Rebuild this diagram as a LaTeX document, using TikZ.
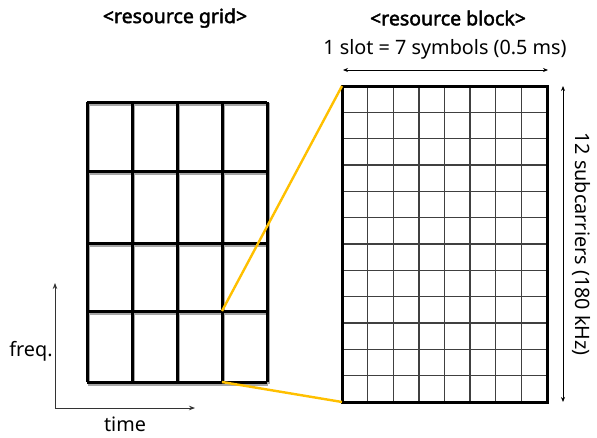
\documentclass[tikz,border=0pt]{standalone}
\usepackage{fontspec}
\setmainfont{Noto Sans}
\newfontfamily\ttlfont{Noto Sans}[FakeBold=2.2]
\usetikzlibrary{arrows.meta}
\definecolor{gold}{HTML}{FFC000}
\tikzset{
  gridline/.style={line width=3pt,black},
  gridshadow/.style={line width=3pt,black!35},
  blockline/.style={line width=1.4pt,black!75},
  blockframe/.style={line width=3pt,black},
  zoomline/.style={line width=2.4pt,gold},
  dimarrow/.style={line width=0.8pt,black,{Stealth[length=5pt,width=4pt]}-{Stealth[length=5pt,width=4pt]}},
  axisarrow/.style={line width=0.8pt,black!80,-{Stealth[length=6pt,width=4.5pt]}},
  lbl/.style={inner sep=0pt,font=\fontsize{19.8}{22}\selectfont},
  ttl/.style={inner sep=0pt,font=\fontsize{19.5}{22}\ttlfont}
}
\begin{document}
\begin{tikzpicture}[x=1pt,y=-1pt]
\useasboundingbox (0,0) rectangle (597,437);
% titles
\node[ttl] (t1) at (175,18) {<resource grid>};
\node[ttl] (t2) at (448,18) {<resource block>};
% resource grid (4x4)
\foreach \x in {87,132,177,222,267} \draw[gridshadow] (\x+1,103) -- (\x+1,384);
\foreach \y in {102,171,243,311,382} \draw[gridshadow] (88,\y+2) -- (268,\y+2);
\foreach \x in {87,132,177,222,267} \draw[gridline] (\x,102) -- (\x,382);
\foreach \y in {102,171,243,311,382} \draw[gridline] (87,\y) -- (267,\y);
% resource block (8 x 12)
\foreach \i in {1,...,7} \draw[blockline] ({342+\i*205/8},86) -- ({342+\i*205/8},402);
\foreach \j in {1,...,11} \draw[blockline] (342,{86+\j*316/12}) -- (547,{86+\j*316/12});
\draw[blockframe] (342,86) rectangle (547,402);
% zoom connectors
\coordinate (gA) at (222,311);
\coordinate (gB) at (222,382);
\coordinate (bA) at (342,86);
\coordinate (bB) at (342,402);
\draw[zoomline] (gA) -- (bA);
\draw[zoomline] (gB) -- (bB);
% slot dimension
\coordinate (sL) at (343,70);
\coordinate (sR) at (548,70);
\draw[dimarrow] (sL) -- (sR);
\node[lbl] (slot) at (445,49) {1 slot = 7 symbols (0.5 ms)};
% subcarrier dimension
\coordinate (cT) at (563,86);
\coordinate (cB) at (563,402);
\draw[dimarrow] (cT) -- (cB);
\node[lbl,rotate=-90] (sub) at (581,244) {12 subcarriers (180 kHz)};
% axes
\coordinate (o) at (55,408);
\coordinate (fq) at (55,283);
\coordinate (tm) at (195,408);
\draw[axisarrow] (o) -- (fq);
\draw[axisarrow] (o) -- (tm);
\node[lbl] (freq) at (31,351) {freq.};
\node[lbl] (time) at (125,424) {time};
\end{tikzpicture}
\end{document}
